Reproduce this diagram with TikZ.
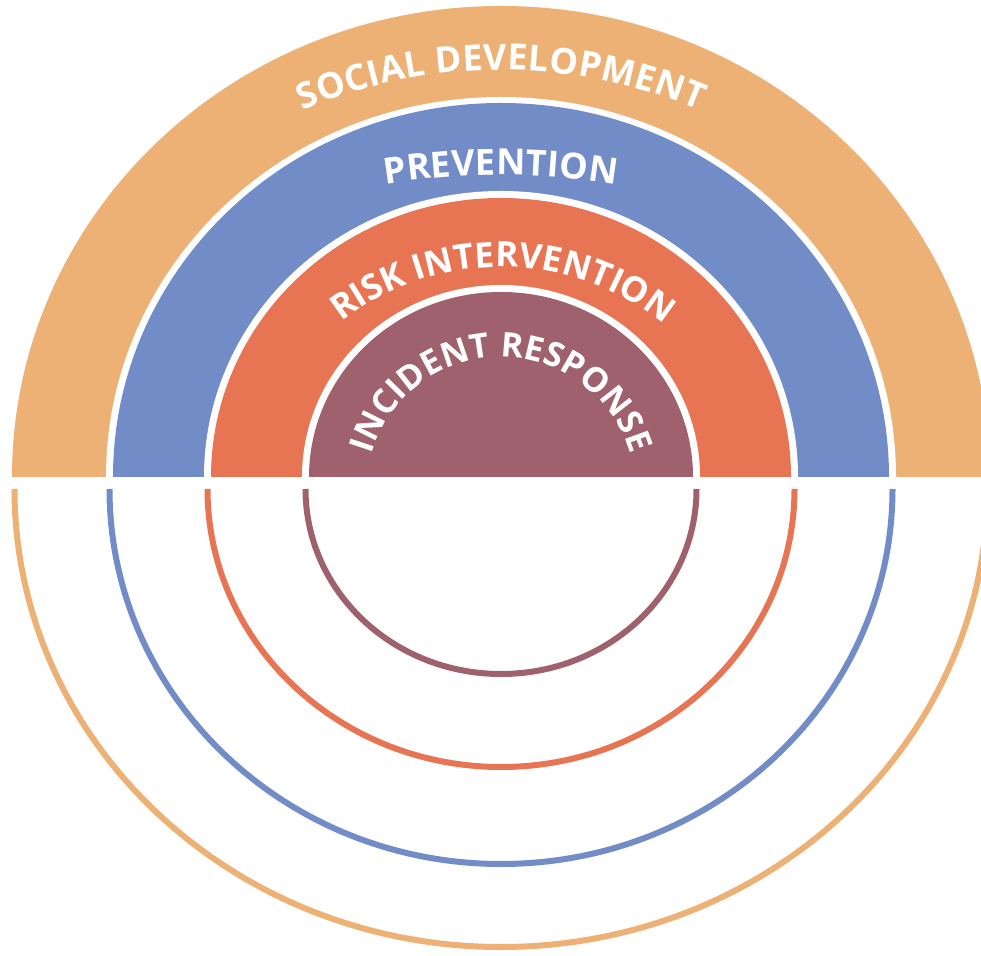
\documentclass[tikz,border=0pt]{standalone}
\usepackage{fontspec}
\newfontfamily\labfont{Open Sans}
\usetikzlibrary{decorations.text,calc}
\definecolor{sdorange}{HTML}{EDB176}
\definecolor{prblue}{HTML}{728CC7}
\definecolor{rired}{HTML}{E77553}
\definecolor{irpurple}{HTML}{9E616D}
\begin{document}
\begin{tikzpicture}[x=1pt,y=1pt,
  ringline/.style={line width=6pt},
  lab/.style 2 args={decorate, decoration={text along path, text align={fit to path}, text color=white,
     text={|\labfont\bfseries\fontsize{#1}{#1}\selectfont|#2}}}]
\useasboundingbox (0,0) rectangle (981,955);
\clip (0,0) rectangle (981,955);
% upper filled half discs
\fill[sdorange] (12,478) arc[start angle=180,end angle=0,x radius=489,y radius=471] -- cycle;
\fill[white] (106,478) arc[start angle=180,end angle=0,x radius=395,y radius=380] -- cycle;
\fill[prblue] (113,478) arc[start angle=180,end angle=0,x radius=388,y radius=374] -- cycle;
\fill[white] (204,478) arc[start angle=180,end angle=0,x radius=297,y radius=286] -- cycle;
\fill[rired] (211,478) arc[start angle=180,end angle=0,x radius=290,y radius=279] -- cycle;
\fill[white] (302,478) arc[start angle=180,end angle=0,x radius=199,y radius=192] -- cycle;
\fill[irpurple] (309,478) arc[start angle=180,end angle=0,x radius=192,y radius=185] -- cycle;
% lower rings
\draw[ringline, irpurple] (305.5,466) arc[start angle=180,end angle=360,x radius=195.5,y radius=185];
\draw[ringline, rired] (207.5,466) arc[start angle=180,end angle=360,x radius=293.5,y radius=278];
\draw[ringline, prblue] (109.5,466) arc[start angle=180,end angle=360,x radius=391.5,y radius=375];
\draw[ringline, sdorange] (14.5,466) arc[start angle=180,end angle=360,x radius=486.5,y radius=458];
% labels
\coordinate (csd) at (501,378.3);
\coordinate (cpr) at (501,66);
\coordinate (cri) at (501,428.4);
\coordinate (cir) at (501,463.3);
\path[lab={36}{SOCIAL DEVELOPMENT}] ($(csd)+(113.06:506.7)$) arc[start angle=113.06,end angle=66.94,radius=506.7];
\path[lab={36}{PREVENTION}] ($(cpr)+(99.3:714)$) arc[start angle=99.3,end angle=80.7,radius=714];
\path[lab={35}{RISK INTERVENTION}] ($(cri)+(128:259.6)$) arc[start angle=128,end angle=52,radius=259.6];
\path[lab={34}{INCIDENT RESPONSE}] ($(cir)+(164:134.7)$) arc[start angle=164,end angle=16,radius=134.7];
\end{tikzpicture}
\end{document}
